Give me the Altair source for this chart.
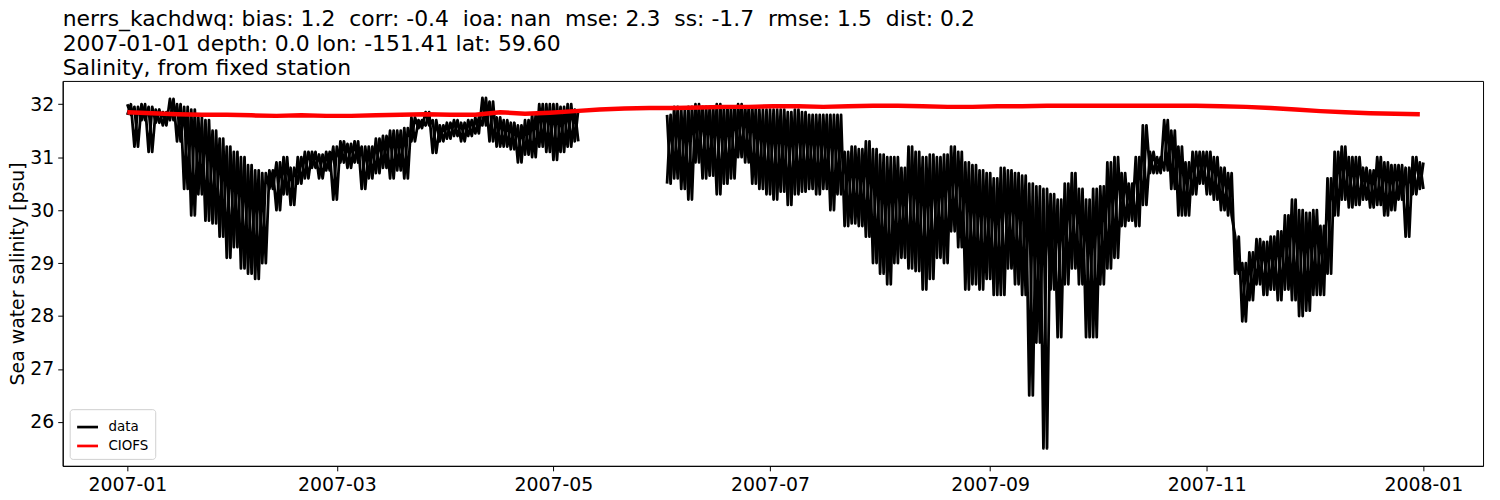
import altair as alt
import pandas as pd

title_lines = [
    "nerrs_kachdwq: bias: 1.2\u00a0 corr: -0.4\u00a0 ioa: nan\u00a0 mse: 2.3\u00a0 ss: -1.7\u00a0 rmse: 1.5\u00a0 dist: 0.2",
    "2007-01-01 depth: 0.0 lon: -151.41 lat: 59.60",
    "Salinity, from fixed station",
]
y_title = "Sea water salinity [psu]"
series_names = ["data", "CIOFS"]
series_colors = ["black", "red"]

# x ticks: days since 2007-01-01
tick_days = [0, 59, 120, 181, 243, 304, 365]
tick_labels = ["2007-01", "2007-03", "2007-05", "2007-07", "2007-09", "2007-11", "2008-01"]
y_ticks = [26, 27, 28, 29, 30, 31, 32]

# observed salinity, segment 1 (2007-01-01 .. 2007-05-08), 2-day bins: high / low of the tidal swing
seg1_start = 0
seg1_hi = [32.0, 31.95, 32.0, 31.95, 31.9, 31.85, 32.1, 32.0, 31.95, 31.9, 31.75, 31.7, 31.5, 31.35, 31.2, 31.1,
           31.0, 30.85, 30.75, 30.7, 30.75, 30.9, 31.0, 30.8, 31.0, 31.1, 31.1, 31.05, 31.1, 31.2,
           31.3, 31.25, 31.3, 31.2, 31.2, 31.35, 31.4, 31.5, 31.5, 31.55, 31.75, 31.7, 31.85, 31.7, 31.6,
           31.65, 31.7, 31.65, 31.7, 31.75, 32.12, 32.05, 31.75, 31.7, 31.65, 31.6, 31.7, 31.8, 32.0, 32.0,
           32.0, 31.95, 32.0, 31.9]
seg1_lo = [31.8, 31.2, 31.7, 31.1, 31.65, 31.6, 31.7, 31.3, 30.4, 29.9, 30.3, 29.8, 29.75, 29.5, 29.1, 29.3,
           28.9, 28.8, 28.7, 29.0, 30.4, 30.0, 30.3, 30.1, 30.5, 30.6, 30.8, 30.6, 30.75, 30.2,
           30.9, 30.8, 30.9, 30.4, 30.6, 30.7, 30.8, 30.6, 30.75, 30.6, 31.3, 31.55, 31.6, 31.08, 31.3,
           31.35, 31.4, 31.3, 31.4, 31.45, 31.6, 31.3, 31.2, 31.2, 31.15, 30.9, 31.05, 31.0, 31.2, 31.1,
           30.95, 31.1, 31.2, 31.3]

# observed salinity, segment 2 (2007-06-01 .. 2007-12-31)
seg2_start = 152
seg2_hi = [31.8, 31.95, 31.9, 31.95, 32.0, 31.95, 31.95, 32.0, 31.95, 31.95, 32.0, 31.95, 31.95, 31.9,
           31.9, 31.9, 31.9, 31.85, 31.9, 31.85, 31.8, 31.8, 31.8, 31.8, 31.8, 31.1, 31.2, 31.15, 31.3, 31.15,
           31.05, 31.0, 31.0, 30.8, 31.2, 31.1, 31.0, 31.05, 31.0, 31.05, 31.2, 31.1, 30.9, 30.85, 30.75, 30.7,
           30.6, 30.8, 30.75, 30.7, 30.65, 30.5, 30.45, 30.4, 30.3, 30.2, 30.5, 30.7, 30.4, 30.2, 30.4,
           30.45, 30.9, 31.0, 30.7, 30.5, 31.0, 31.6, 31.1, 31.0, 31.7, 31.5, 31.2, 30.9, 31.1, 31.1,
           31.1, 31.0, 30.8, 30.7, 29.5, 29.0, 29.2, 29.45, 29.4, 29.5, 29.6, 29.9, 30.2, 30.0, 29.95,
           30.0, 29.7, 30.6, 31.1, 31.2, 31.0, 31.0, 30.8, 30.75, 31.0, 30.9, 30.85, 30.85, 30.8, 31.0, 30.9]
seg2_lo = [30.5, 30.6, 30.4, 30.2, 30.9, 30.6, 30.65, 30.3, 30.5, 30.6, 31.0, 30.9, 30.5, 30.4,
           30.3, 30.2, 30.35, 30.1, 30.3, 30.35, 30.4, 30.3, 30.4, 30.0, 30.3, 29.7, 29.75, 29.7, 29.5, 29.0,
           28.8, 28.6, 29.0, 29.1, 28.9, 28.85, 28.5, 28.7, 29.1, 29.0, 29.6, 29.3, 28.5, 28.6, 28.5, 28.7,
           28.4, 28.4, 28.9, 28.6, 28.4, 26.5, 27.5, 25.5, 28.5, 27.6, 28.6, 28.9, 28.6, 27.6, 27.6,
           28.6, 28.9, 29.1, 29.7, 29.8, 29.7, 30.1, 30.7, 30.7, 30.75, 30.4, 29.9, 29.9, 30.3, 30.5,
           30.3, 30.2, 30.0, 29.9, 28.8, 27.9, 28.3, 28.6, 28.4, 28.5, 28.3, 28.5, 28.3, 28.0, 28.1,
           28.4, 28.4, 28.8, 29.9, 30.2, 30.05, 30.1, 30.2, 30.05, 30.1, 29.9, 30.0, 30.2, 29.5, 30.3, 30.4]

# CIOFS model, weekly values from 2007-01-01
model_start = 0
model_step = 7
model_vals = [31.85, 31.83, 31.81, 31.8, 31.8, 31.79, 31.78, 31.79, 31.78, 31.78, 31.79, 31.8, 31.81,
              31.8, 31.8, 31.85, 31.82, 31.84, 31.87, 31.9, 31.92, 31.93, 31.93, 31.94, 31.95, 31.95,
              31.96, 31.96, 31.95, 31.96, 31.97, 31.97, 31.96, 31.95, 31.95, 31.96, 31.96, 31.97, 31.97,
              31.97, 31.97, 31.97, 31.97, 31.97, 31.96, 31.95, 31.93, 31.9, 31.87, 31.85, 31.83, 31.82, 31.81]

# the tidal band is drawn as two interleaved zigzags through the same high/low readings
rows = []
for seg, (start, his, los) in enumerate([(seg1_start, seg1_hi, seg1_lo), (seg2_start, seg2_hi, seg2_lo)]):
    for i, (h, l) in enumerate(zip(his, los)):
        d = start + 2 * i
        rows.append({"day": d, "value": h, "seg": f"{seg}a", "series": "data"})
        rows.append({"day": d + 1, "value": l, "seg": f"{seg}a", "series": "data"})
        rows.append({"day": d, "value": l, "seg": f"{seg}b", "series": "data"})
        rows.append({"day": d + 1, "value": h, "seg": f"{seg}b", "series": "data"})
obs = pd.DataFrame(rows)
mod = pd.DataFrame({"day": [model_start + model_step * i for i in range(len(model_vals))],
                    "value": model_vals, "seg": "m", "series": "CIOFS"})

label_expr = ""
for d, lab in zip(tick_days, tick_labels):
    label_expr += f"datum.value == {d} ? '{lab}' : "
label_expr += "''"

x_enc = alt.X("day:Q", scale=alt.Scale(domain=[-18.2, 381.8], nice=False, zero=False),
              axis=alt.Axis(values=tick_days, labelExpr=label_expr, title=None, labelFlush=False,
                            labelPadding=5))
y_enc = alt.Y("value:Q", scale=alt.Scale(domain=[25.17, 32.44], nice=False, zero=False),
              axis=alt.Axis(values=y_ticks, title=y_title, format="d", titlePadding=2))
color_enc = alt.Color("series:N", scale=alt.Scale(domain=series_names, range=series_colors),
                      legend=alt.Legend(title=None, orient="bottom-left", offset=7, symbolType="stroke",
                                        symbolStrokeWidth=2.7, symbolSize=441, labelFontSize=13.5,
                                        labelFont="DejaVu Sans", strokeColor="#d0d0d0", fillColor="white",
                                        padding=6, cornerRadius=3, rowPadding=0, labelOffset=9,
                                        labelColor="black"))

black = alt.Chart(obs).mark_line(strokeWidth=2.8, strokeJoin="round").encode(
    x=x_enc, y=y_enc, color=color_enc, detail="seg:N")
red = alt.Chart(mod).mark_line(strokeWidth=4.5, strokeJoin="round").encode(
    x=x_enc, y=y_enc, color=color_enc, detail="seg:N")

chart = alt.layer(black, red).properties(
    width=1428, height=387,
    background="white",
    title=alt.TitleParams(text=title_lines, anchor="start", fontSize=22, font="DejaVu Sans",
                          fontWeight="normal", lineHeight=25, offset=0.5, color="black", frame="group"),
    autosize=alt.AutoSizeParams(type="none"),
    padding={"left": 55, "top": 72, "right": 9, "bottom": 34},
).configure_view(stroke="black", strokeWidth=1).configure_axis(
    grid=False, labelFont="DejaVu Sans", labelFontSize=19, labelColor="black",
    titleFont="DejaVu Sans", titleFontSize=19, titleFontWeight="normal", titleColor="black",
    tickColor="black", domainColor="black", tickSize=5, labelPadding=4,
)

chart.save("out.html", embed_options={"renderer": "svg", "actions": False})
